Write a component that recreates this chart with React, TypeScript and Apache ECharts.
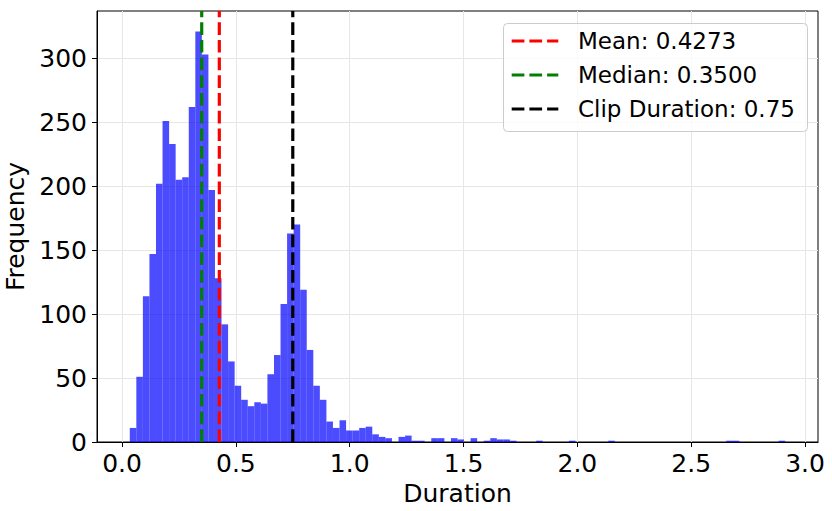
import React, { useEffect, useRef } from 'react';
import * as echarts from 'echarts';

// histogram: 100 bins between the shortest and longest clip
const counts = [
  11, 51, 114, 147, 202, 251, 233, 205, 207, 262,
  321, 303, 197, 128, 92, 63, 44, 33, 28, 31,
  30, 53, 68, 108, 163, 170, 119, 72, 44, 33,
  16, 11, 17, 9, 9, 11, 12, 6, 4, 3,
  0, 4, 5, 1, 1, 0, 3, 3, 0, 3,
  2, 0, 3, 0, 1, 3, 2, 2, 1, 0,
  0, 0, 1, 0, 0, 0, 0, 1, 0, 0,
  0, 0, 0, 1, 0, 0, 0, 0, 0, 0,
  0, 0, 0, 0, 0, 0, 0, 0, 0, 0,
  0, 1, 1, 0, 0, 0, 0, 0, 0, 1,
];
const durationMin = 0.034;
const durationMax = 2.913;

const xTicks = [0, 0.5, 1.0, 1.5, 2.0, 2.5, 3.0];
const yTicks = [0, 50, 100, 150, 200, 250, 300];

const refNames = ['Mean: 0.4273', 'Median: 0.3500', 'Clip Duration: 0.75'];
const refValues = [0.4273, 0.35, 0.75];
const refColors = ['#ff0000', '#008000', '#000000'];

const FONT = '"DejaVu Sans", Verdana, sans-serif';

const App: React.FC = () => {
  const chartRef = useRef<HTMLDivElement>(null);

  useEffect(() => {
    if (!chartRef.current) return;
    const chart = echarts.init(chartRef.current, undefined, { renderer: 'svg' });

    const binW = (durationMax - durationMin) / counts.length;
    const bins = counts.map((c, i) => [durationMin + i * binW, durationMin + (i + 1) * binW, c]);
    const span = durationMax - durationMin;
    const xMin = durationMin - span * 0.05;
    const xMax = durationMax + span * 0.05;
    const yMax = Math.max(...counts) * 1.05;

    const dash = [12.7, 5];
    const rowY = [41, 75, 109];

    const option: echarts.EChartsOption = {
      animation: false,
      grid: {
        left: 97,
        top: 11,
        right: 14,
        bottom: 69,
        show: true,
        borderColor: '#000',
        borderWidth: 1,
        outerBoundsMode: 'none',
      } as any,
      xAxis: {
        type: 'value',
        min: xMin,
        max: xMax,
        name: 'Duration',
        nameLocation: 'middle',
        nameGap: 38,
        nameTextStyle: { fontFamily: FONT, fontSize: 25, color: '#000' },
        axisLine: { show: true, onZero: false, lineStyle: { color: '#000', width: 1 } },
        axisTick: { show: true, length: 5, lineStyle: { color: '#000' }, customValues: xTicks } as any,
        axisLabel: {
          customValues: xTicks,
          formatter: (v: number) => v.toFixed(1),
          fontFamily: FONT,
          fontSize: 25,
          color: '#000',
          margin: 9,
        } as any,
        splitLine: { show: true, lineStyle: { color: '#e7e7e7', width: 1 } },
      },
      yAxis: {
        type: 'value',
        min: 0,
        max: yMax,
        name: 'Frequency',
        nameLocation: 'middle',
        nameGap: 66,
        nameTextStyle: { fontFamily: FONT, fontSize: 25, color: '#000' },
        axisLine: { show: true, onZero: false, lineStyle: { color: '#000', width: 1 } },
        axisTick: { show: true, length: 5, lineStyle: { color: '#000' }, customValues: yTicks } as any,
        axisLabel: {
          customValues: yTicks,
          fontFamily: FONT,
          fontSize: 25,
          color: '#000',
          margin: 10,
        } as any,
        splitLine: { show: true, lineStyle: { color: '#e7e7e7', width: 1 } },
      },
      series: [
        {
          type: 'custom',
          data: bins,
          encode: { x: [0, 1], y: 2 },
          renderItem: (params: any, api: any) => {
            const c = api.value(2);
            if (!c) return null;
            const p0 = api.coord([api.value(0), c]);
            const p1 = api.coord([api.value(1), 0]);
            return {
              type: 'rect',
              shape: { x: p0[0], y: p0[1], width: p1[0] - p0[0], height: p1[1] - p0[1] },
              style: { fill: 'rgba(0,0,255,0.7)' },
            };
          },
        } as any,
        ...refValues.map((v, i) => ({
          type: 'line' as const,
          name: refNames[i],
          data: [[v, 0], [v, yMax]],
          showSymbol: false,
          symbol: 'none',
          lineStyle: { color: refColors[i], width: 3.2, type: dash as any },
          z: 5,
        })),
      ],
      graphic: [
        {
          type: 'rect',
          shape: { x: 503.5, y: 23.5, width: 304, height: 108, r: 4 },
          style: { fill: 'rgba(255,255,255,0.8)', stroke: '#cccccc', lineWidth: 1 },
          z: 10,
        },
        ...refNames.map((n, i) => ({
          type: 'line' as const,
          shape: { x1: 511.7, y1: rowY[i], x2: 558.3, y2: rowY[i] },
          style: { stroke: refColors[i], lineWidth: 3.2, lineDash: dash },
          z: 11,
        })),
        ...refNames.map((n, i) => ({
          type: 'text' as const,
          x: 578,
          y: rowY[i],
          style: {
            text: n,
            fontFamily: FONT,
            fontSize: 23,
            fill: '#000',
            verticalAlign: 'middle',
          },
          z: 11,
        })),
      ] as any,
    };

    chart.setOption(option);
    return () => {
      chart.dispose();
    };
  }, []);

  return (
    <div
      ref={chartRef}
      style={{ position: 'fixed', left: 0, top: 0, width: '832px', height: '511px', background: '#fff' }}
    />
  );
};

export default App;
